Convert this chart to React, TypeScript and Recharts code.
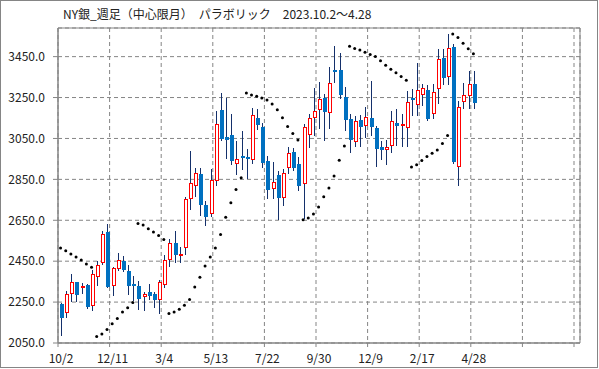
import React from 'react';
import { ComposedChart, Bar, Line, XAxis, YAxis, CartesianGrid, ReferenceArea } from 'recharts';

const title = 'NY銀_週足（中心限月）　パラボリック　2023.10.2～4.28';

const xTickLabels = ['10/2', '12/11', '3/4', '5/13', '7/22', '9/30', '12/9', '2/17', '4/28', '', ''];
const xTicks = [0, 10, 20, 30, 40, 50, 60, 70, 80, 90, 100];
const yTicks = [2050, 2250, 2450, 2650, 2850, 3050, 3250, 3450];

const opens = [
  2242, 2195, 2289, 2347, 2323, 2335, 2229, 2375, 2442, 2592,
  2330, 2413, 2452, 2402, 2340, 2331, 2275, 2298, 2290, 2262,
  2336, 2454, 2539, 2480, 2513, 2756, 2820, 2878, 2724, 2682,
  2843, 3188, 3056, 3066, 2927, 2963, 2958, 2945, 3150, 3108,
  2940, 2805, 2870, 2760, 2907, 2985, 2924, 2829, 3065, 3152,
  3189, 3246, 3173, 3387, 3383, 3255, 3144, 3035, 3140, 3111,
  3149, 3100, 3006, 2994, 3011, 3128, 3109, 3099, 3247, 3214,
  3263, 3286, 3169, 3294, 3442, 3351, 3499, 2909, 3230, 3258,
  3318,
];
const highs = [
  2246, 2302, 2387, 2350, 2345, 2340, 2405, 2450, 2598, 2630,
  2420, 2490, 2476, 2430, 2380, 2352, 2300, 2340, 2300, 2359,
  2478, 2557, 2599, 2520, 2762, 2990, 2905, 2905, 2744, 2899,
  3185, 3273, 3250, 3170, 3038, 3087, 2997, 3200, 3196, 3128,
  2965, 2935, 2891, 2902, 3010, 3005, 2961, 3119, 3168, 3298,
  3326, 3266, 3400, 3503, 3470, 3304, 3169, 3161, 3164, 3204,
  3331, 3110, 3040, 3042, 3182, 3193, 3170, 3283, 3291, 3421,
  3315, 3310, 3315, 3486, 3486, 3562, 3510, 3234, 3323, 3380,
  3380,
];
const lows = [
  2083, 2170, 2252, 2250, 2290, 2218, 2205, 2328, 2430, 2320,
  2278, 2400, 2395, 2286, 2255, 2210, 2205, 2262, 2220, 2192,
  2320, 2421, 2440, 2440, 2480, 2698, 2766, 2670, 2621, 2667,
  2817, 3040, 2948, 2918, 2870, 2896, 2853, 2923, 3090, 2907,
  2752, 2752, 2650, 2720, 2878, 2890, 2793, 2655, 3005, 3062,
  3098, 3038, 3095, 3323, 3242, 3087, 2977, 3006, 3006, 3050,
  3063, 2912, 2944, 2922, 2978, 3014, 3006, 3006, 3160, 3161,
  3209, 3136, 3144, 3217, 3310, 3310, 2925, 2819, 3193, 3193,
  3193,
];
const closes = [
  2170, 2290, 2347, 2285, 2329, 2225, 2388, 2432, 2584, 2326,
  2416, 2457, 2405, 2330, 2328, 2267, 2291, 2280, 2262, 2346,
  2454, 2539, 2482, 2487, 2752, 2834, 2880, 2724, 2665, 2849,
  3123, 3047, 3042, 2940, 2948, 2954, 2948, 3167, 3114, 2932,
  2798, 2839, 2760, 2883, 2981, 2907, 2818, 3108, 3151, 3184,
  3243, 3177, 3323, 3376, 3261, 3141, 3043, 3133, 3107, 3156,
  3104, 2998, 2993, 3006, 3133, 3112, 3120, 3230, 3239, 3286,
  3299, 3144, 3279, 3440, 3344, 3494, 2933, 3206, 3261, 3315,
  3222,
];
const sar = [
  2515, 2501, 2485, 2470, 2456, 2436, 2420, 2082, 2094, 2116,
  2144, 2170, 2201, 2222, 2248, 2634, 2627, 2609, 2593, 2575,
  2556, 2194, 2202, 2215, 2234, 2263, 2324, 2372, 2427, 2470,
  2515, 2581, 2665, 2736, 2801, 2858, 3272, 3262, 3256, 3248,
  3238, 3219, 3190, 3151, 3108, 3074, 3042, 2653, 2661, 2681,
  2715, 2765, 2808, 2867, 2944, 3013, 3501, 3490, 3482, 3471,
  3460, 3451, 3430, 3408, 3388, 3371, 3353, 3335, 2911, 2922,
  2942, 2962, 2978, 2994, 3025, 3065, 3561, 3544, 3516, 3489,
  3464,
];

const data = opens.map((o, i) => ({
  x: i + 0.5,
  range: [lows[i], highs[i]],
  open: o,
  high: highs[i],
  low: lows[i],
  close: closes[i],
  sar: sar[i],
}));

const FONT = '"Noto Sans CJK JP", "Noto Sans", sans-serif';
const GRAY = '#858585';

const Candle = (props: any) => {
  const { x, y, width, height, payload } = props;
  if (x == null || y == null || !payload) return null;
  const { open, close, high, low } = payload;
  const top = Math.min(y, y + height);
  const bot = Math.max(y, y + height);
  const k = (bot - top) / (high - low || 1);
  const py = (v: number) => top + (high - v) * k;
  const cx = Math.round(x + width / 2);
  const up = close >= open;
  const yo = py(open);
  const yc = py(close);
  const bTop = Math.round(Math.min(yo, yc));
  const bBot = Math.round(Math.max(yo, yc));
  return (
    <g>
      <line x1={cx + 0.5} x2={cx + 0.5} y1={Math.round(top)} y2={Math.round(bot)} stroke="#14306b" strokeWidth={1} />
      {up ? (
        <rect x={cx - 0.5} y={bTop + 0.5} width={3} height={Math.max(bBot - bTop - 1, 1)} fill="#ffffff" stroke="#ff0000" strokeWidth={1} />
      ) : (
        <rect x={cx - 1} y={bTop} width={4} height={Math.max(bBot - bTop, 1)} fill="#0070c0" />
      )}
    </g>
  );
};

const XTick = (props: any) => {
  const { x, y, payload } = props;
  const idx = xTicks.indexOf(payload.value);
  const label = idx >= 0 ? xTickLabels[idx] : '';
  return (
    <text x={x + 3} y={y} dy="0.71em" textAnchor="middle" fontSize={12} fontFamily={FONT} fill="#222">
      {label}
    </text>
  );
};

export default function App() {
  return (
    <div style={{ position: 'absolute', left: 0, top: 0, width: 599, height: 369, background: '#fff' }}>
      <div style={{ position: 'absolute', left: 0, top: 0, width: 596, height: 366, border: `1px solid ${GRAY}` }} />
      <svg style={{ position: 'absolute', left: 0, top: 0 }} width={599} height={30}>
        <text x={63} y={19} fontSize={12} fontFamily={FONT} fill="#222" style={{ whiteSpace: 'pre' }}>
          {title}
        </text>
      </svg>
      <div style={{ position: 'absolute', left: 0, top: 0 }}>
        <ComposedChart width={599} height={369} data={data} margin={{ top: 28, right: 19, bottom: 6, left: 0 }}>
          <CartesianGrid stroke={GRAY} strokeDasharray="4 3" />
          <XAxis
            type="number"
            dataKey="x"
            domain={[0, 101.16]}
            ticks={xTicks}
            interval={0}
            allowDataOverflow
            height={20}
            tickSize={4}
            tickMargin={7}
            axisLine={{ stroke: GRAY }}
            tickLine={{ stroke: GRAY }}
            tick={<XTick />}
          />
          <YAxis
            type="number"
            domain={[2050, 3590]}
            ticks={yTicks}
            interval={0}
            allowDataOverflow
            width={58}
            tickSize={5}
            tickMargin={8}
            axisLine={{ stroke: GRAY }}
            tickLine={{ stroke: GRAY }}
            tickFormatter={(v: number) => v.toFixed(1)}
            tick={{ fill: '#222', fontSize: 12, fontFamily: FONT }}
          />
          <ReferenceArea x1={0} x2={101.16} y1={2050} y2={3590} fill="none" stroke={GRAY} strokeWidth={1} ifOverflow="visible" />
          <Bar dataKey="range" barSize={4} shape={<Candle />} isAnimationActive={false} />
          <Line
            dataKey="sar"
            stroke="none"
            dot={{ r: 1.5, fill: '#000', stroke: 'none' }}
            activeDot={false}
            isAnimationActive={false}
            legendType="none"
          />
        </ComposedChart>
      </div>
    </div>
  );
}
